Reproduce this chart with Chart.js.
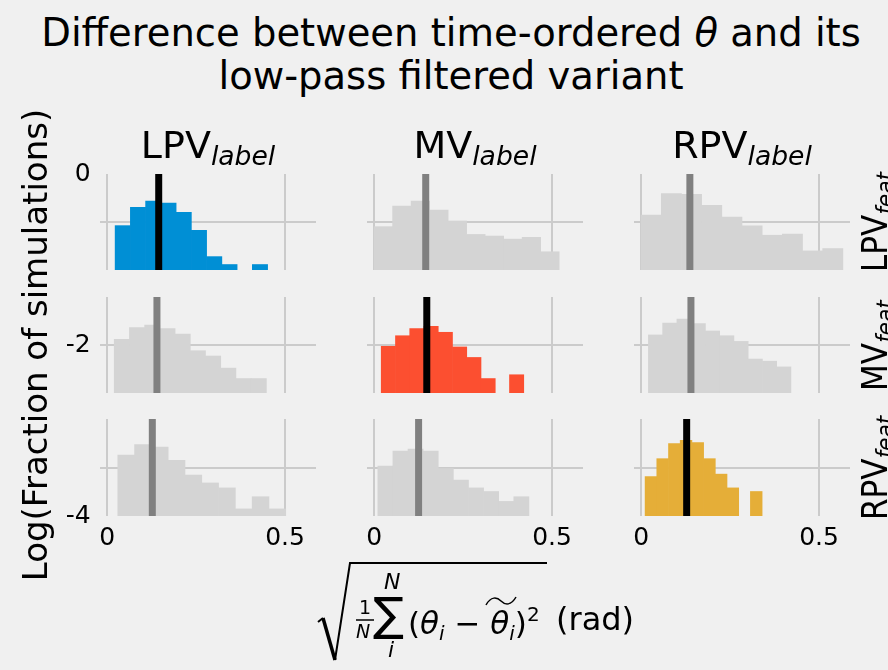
<!DOCTYPE html>
<html>
<head>
<meta charset="utf-8">
<script src="https://cdn.jsdelivr.net/npm/chart.js@4.4.1/dist/chart.umd.min.js"></script>
<style>
  body { margin: 0; background: #f0f0f0; }
  #fig { position: relative; width: 888px; height: 670px; overflow: hidden; background: #f0f0f0;
         font-family: "DejaVu Sans", sans-serif; color: #000; }
  #fig canvas { position: absolute; }
  #fig svg { position: absolute; left: 0; top: 0; }
  .txt { position: absolute; white-space: nowrap; line-height: 1; }
  .suptitle { left: 0; width: 902px; text-align: center; font-size: 38.5px; }
  .coltitle { font-size: 38px; transform: translateX(-50%); }
  .rowtitle { font-size: 31px; transform-origin: 0 0; transform: rotate(-90deg) scaleY(1.12); }
  .coltitle sub, .rowtitle sub { font-size: 0.7em; font-style: italic; vertical-align: -0.28em; }
  .sm { font-style: italic; }
</style>
</head>
<body>
<div id="fig">
  <div class="txt suptitle" style="top:14px">Difference between time-ordered <i>θ</i> and its</div>
  <div class="txt suptitle" style="top:57px">low-pass filtered variant</div>
</div>
<script>
// histogram panels: rows are the feature set, columns are the label set
const labelSets = ['LPV', 'MV', 'RPV'];
const featSets = ['LPV', 'MV', 'RPV'];

// bin range [first edge, last edge] of each panel, 10 bins each
const binRangeLPVfeat = [[0.0225, 0.451], [0.0, 0.520], [0.0, 0.567]];
const binRangeMVfeat = [[0.020, 0.4475], [0.020, 0.4205], [0.0205, 0.421]];
const binRangeRPVfeat = [[0.030, 0.502], [0.0104, 0.435], [0.0112, 0.340]];

// fraction of simulations per bin (null = empty bin)
const fracLPVfeatLPVlabel = [0.084, 0.202, 0.274, 0.249, 0.159, 0.067, 0.019, 0.013, null, 0.013];
const fracLPVfeatMVlabel = [0.080, 0.215, 0.274, 0.178, 0.105, 0.055, 0.051, 0.044, 0.048, 0.024];
const fracLPVfeatRPVlabel = [0.140, 0.389, 0.377, 0.222, 0.127, 0.083, 0.053, 0.056, 0.025, 0.028];
const fracMVfeatLPVlabel = [0.131, 0.230, 0.261, 0.219, 0.169, 0.076, 0.059, 0.033, 0.020, 0.020];
const fracMVfeatMVlabel = [0.094, 0.156, 0.219, 0.245, 0.184, 0.091, 0.055, 0.020, null, 0.024];
const fracMVfeatRPVlabel = [0.162, 0.287, 0.348, 0.278, 0.196, 0.156, 0.119, 0.051, 0.046, 0.035];
const fracRPVfeatLPVlabel = [0.181, 0.296, 0.265, 0.141, 0.070, 0.048, 0.038, 0.014, 0.025, 0.014];
const fracRPVfeatMVlabel = [0.107, 0.219, 0.241, 0.219, 0.095, 0.055, 0.038, 0.032, 0.020, 0.025];
const fracRPVfeatRPVlabel = [0.065, 0.152, 0.310, 0.363, 0.325, 0.152, 0.073, 0.038, null, 0.032];

// median error of each panel (rad)
const medianLPVfeat = [0.145, 0.145, 0.137];
const medianMVfeat = [0.140, 0.148, 0.140];
const medianRPVfeat = [0.127, 0.125, 0.128];

const xTicks = [0, 0.5];
const yOuterTicks = [0, -2, -4];

const binRanges = [binRangeLPVfeat, binRangeMVfeat, binRangeRPVfeat];
const fracs = [
    [fracLPVfeatLPVlabel, fracLPVfeatMVlabel, fracLPVfeatRPVlabel],
    [fracMVfeatLPVlabel, fracMVfeatMVlabel, fracMVfeatRPVlabel],
    [fracRPVfeatLPVlabel, fracRPVfeatMVlabel, fracRPVfeatRPVlabel]
];
const medians = [medianLPVfeat, medianMVfeat, medianRPVfeat];

// diagonal panels get their own colour, the rest are grey
const diagColors = ['#008fd5', '#fc4f30', '#e5ae38'];
const greyBar = '#d4d4d4';
const greyLine = '#808080';
const gridColor = '#cbcbcb';

// panel layout (px)
const colLeft = [100, 367, 634];
const rowTop = [174, 297, 419];
const rowHeight = [96, 96, 97];
const panelWidth = 216;
const sidePad = 24;
const xAxisHeight = 40;
const tickFont = { family: 'DejaVu Sans', size: 25 };

const fig = document.getElementById('fig');

function addText(cls, left, top, html, style) {
    const d = document.createElement('div');
    d.className = 'txt ' + cls;
    d.style.left = left + 'px';
    d.style.top = top + 'px';
    if (style) d.style.cssText += style;
    d.innerHTML = html;
    fig.appendChild(d);
    return d;
}

function makePanel(r, c) {
    const bottomRow = r === 2;
    const canvas = document.createElement('canvas');
    canvas.width = panelWidth + 2 * sidePad;
    canvas.height = rowHeight[r] + (bottomRow ? xAxisHeight : 0);
    canvas.style.left = (colLeft[c] - sidePad) + 'px';
    canvas.style.top = rowTop[r] + 'px';
    fig.appendChild(canvas);

    const vals = fracs[r][c];
    const [lo, hi] = binRanges[r][c];
    const w = (hi - lo) / vals.length;
    const bars = vals.map((v, i) => ({ x: lo + (i + 0.5) * w, y: v }));
    const diag = r === c;
    const med = medians[r][c];

    return new Chart(canvas, {
        type: 'bar',
        data: {
            datasets: [
                {
                    type: 'line',
                    data: [{ x: med, y: 0.01 }, { x: med, y: 1 }],
                    borderColor: diag ? '#000000' : greyLine,
                    borderWidth: 7,
                    pointRadius: 0,
                    order: 0
                },
                {
                    data: bars,
                    backgroundColor: diag ? diagColors[r] : greyBar,
                    borderWidth: 0,
                    barPercentage: 1,
                    categoryPercentage: 1,
                    base: 0.01,
                    order: 1
                }
            ]
        },
        options: {
            responsive: false,
            animation: false,
            events: [],
            layout: { padding: { left: sidePad, right: sidePad, top: 0, bottom: 0 } },
            plugins: { legend: { display: false }, tooltip: { enabled: false } },
            scales: {
                x: {
                    type: 'linear',
                    min: -0.02,
                    max: 0.587,
                    offset: false,
                    grid: { color: gridColor, lineWidth: 2, drawTicks: false, offset: false },
                    border: { display: false },
                    ticks: {
                        display: bottomRow,
                        color: '#000',
                        font: tickFont,
                        padding: 7,
                        maxRotation: 0,
                        autoSkip: false,
                        callback: v => String(v)
                    },
                    afterBuildTicks: s => { s.ticks = xTicks.map(v => ({ value: v })); },
                    afterFit: s => { s.height = bottomRow ? xAxisHeight : 0; }
                },
                y: {
                    type: 'logarithmic',
                    min: 0.01,
                    max: 1,
                    grid: { color: gridColor, lineWidth: 2, drawTicks: false },
                    border: { display: false },
                    ticks: { display: false },
                    afterBuildTicks: s => { s.ticks = [{ value: 0.1 }]; },
                    afterFit: s => { s.width = 0; }
                }
            }
        }
    });
}

// shared y axis carrying the log-fraction tick labels, behind the panels
const yTop = 174, yBottom = 516;
const yCanvas = document.createElement('canvas');
yCanvas.width = 220;
yCanvas.height = 560;
yCanvas.style.left = '0px';
yCanvas.style.top = '60px';
fig.appendChild(yCanvas);
new Chart(yCanvas, {
    type: 'line',
    data: { labels: ['a'], datasets: [{ data: [null] }] },
    options: {
        responsive: false,
        animation: false,
        events: [],
        layout: { padding: { left: 14, right: 0, top: yTop - 60, bottom: 560 - (yBottom - 60) } },
        plugins: { legend: { display: false }, tooltip: { enabled: false } },
        scales: {
            x: { display: false },
            y: {
                min: -4,
                max: 0,
                grid: { display: false },
                border: { display: false },
                ticks: { color: '#000', font: tickFont, padding: 3 },
                afterBuildTicks: s => { s.ticks = yOuterTicks.map(v => ({ value: v })); },
                title: {
                    display: true,
                    text: 'Log(Fraction of simulations)',
                    color: '#000',
                    font: { family: 'DejaVu Sans', size: 34 },
                    padding: { top: 4, bottom: 4 }
                }
            }
        }
    }
});

for (let r = 0; r < 3; r++) {
    for (let c = 0; c < 3; c++) makePanel(r, c);
}

// column titles (label set) and row titles (feature set), each centred on its panel
labelSets.forEach((name, c) => {
    addText('coltitle', colLeft[c] + panelWidth / 2, 126, name + '<sub>label</sub>');
});
featSets.forEach((name, r) => {
    const d = addText('rowtitle', 858, 0, name + '<sub>feat</sub>');
    d.style.top = (rowTop[r] + rowHeight[r] / 2 + d.offsetWidth / 2) + 'px';
});

// x-axis label: root-mean-square difference, drawn as a radical over a sum
const svgNS = 'http://www.w3.org/2000/svg';
const svg = document.createElementNS(svgNS, 'svg');
svg.setAttribute('width', '888');
svg.setAttribute('height', '670');
svg.innerHTML =
    '<polyline points="318,622 323,618" stroke="#000" stroke-width="2" fill="none"/>' +
    '<polyline points="323,618 335,660" stroke="#000" stroke-width="3.5" fill="none"/>' +
    '<polyline points="335,660 350,563 547,563" stroke="#000" stroke-width="2" fill="none" stroke-linejoin="miter"/>' +
    '<line x1="356" y1="620" x2="374" y2="620" stroke="#000" stroke-width="1.5"/>' +
    '<path d="M486,605 C491,596 497,597 501,601 C505,605 511,606 516,597" stroke="#000" stroke-width="1.5" fill="none"/>';
fig.appendChild(svg);

addText('', 359, 598, '1', 'font-size:19px');
addText('sm', 356, 622, 'N', 'font-size:19px');
addText('', 373, 591, '∑', 'font-size:46px');
addText('sm', 384, 571, 'N', 'font-size:22px');
addText('sm', 388, 639, 'i', 'font-size:22px');
addText('', 408, 604,
    '(<i>θ</i><sub class="sm" style="font-size:20px;vertical-align:-6px">i</sub> − ' +
    '<i>θ</i><sub class="sm" style="font-size:20px;vertical-align:-6px">i</sub>)' +
    '<sup style="font-size:20px;vertical-align:13px">2</sup>',
    'font-size:31px');
addText('', 556, 603, '(rad)', 'font-size:32px');
</script>
</body>
</html>
